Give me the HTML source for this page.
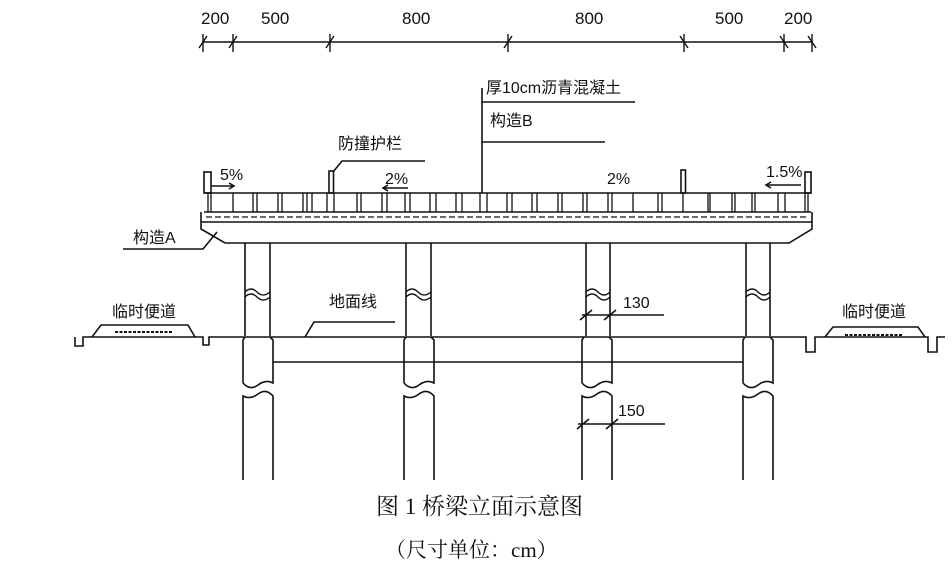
<!DOCTYPE html>
<html><head><meta charset="utf-8"><style>
html,body{margin:0;padding:0;background:#fff;}
svg{display:block;}
text{font-family:"Liberation Sans","Noto Sans CJK SC",sans-serif;fill:#111;}
.s{font-family:"Liberation Serif","Noto Serif CJK SC",serif;}
</style></head><body>
<svg width="952" height="565" viewBox="0 0 952 565" xmlns="http://www.w3.org/2000/svg">
<g stroke="#111" stroke-width="1.6" fill="none">
<!-- dimension line -->
<line x1="203" y1="42" x2="812" y2="42"/>
<g stroke-width="1.4">
<line x1="203" y1="34" x2="203" y2="52"/><line x1="199" y1="48" x2="207" y2="36"/>
<line x1="233" y1="34" x2="233" y2="52"/><line x1="229" y1="48" x2="237" y2="36"/>
<line x1="330" y1="34" x2="330" y2="52"/><line x1="326" y1="48" x2="334" y2="36"/>
<line x1="508" y1="34" x2="508" y2="52"/><line x1="504" y1="48" x2="512" y2="36"/>
<line x1="684" y1="34" x2="684" y2="52"/><line x1="680" y1="36" x2="688" y2="48"/>
<line x1="784" y1="34" x2="784" y2="52"/><line x1="780" y1="36" x2="788" y2="48"/>
<line x1="812" y1="34" x2="812" y2="52"/><line x1="808" y1="36" x2="816" y2="48"/>
</g>
<!-- leaders top -->
<line x1="482" y1="88" x2="482" y2="193"/>
<line x1="482" y1="102" x2="635" y2="102"/>
<line x1="482" y1="142" x2="605" y2="142"/>
<polyline points="333,172 342,161 425,161"/>
<!-- deck -->
<line x1="204" y1="193" x2="811" y2="193"/>
<line x1="204" y1="212" x2="811" y2="212"/>
<path d="M201,212 L201,229 L225,243 L789,243 L812,229 L812,212"/>
<line x1="201" y1="222" x2="812" y2="222"/>
<line x1="206" y1="217" x2="808" y2="217" stroke-dasharray="6,3" stroke-width="1.3"/>
<!-- railing posts -->
<rect x="204" y="172" width="7" height="21"/>
<rect x="329" y="171" width="4.5" height="22"/>
<rect x="681" y="170" width="4.5" height="23"/>
<rect x="805" y="172" width="6" height="21"/>
<g stroke-width="1.3">
<line x1="208" y1="193" x2="208" y2="212"/><line x1="211" y1="193" x2="211" y2="212"/>
<line x1="233" y1="193" x2="233" y2="212"/>
<line x1="805" y1="193" x2="805" y2="212"/><line x1="808" y1="193" x2="808" y2="212"/>
<line x1="785" y1="193" x2="785" y2="212"/>
<line x1="253" y1="193" x2="253" y2="212"/><line x1="257" y1="193" x2="257" y2="212"/>
<line x1="278" y1="193" x2="278" y2="212"/><line x1="282" y1="193" x2="282" y2="212"/>
<line x1="303" y1="193" x2="303" y2="212"/><line x1="307" y1="193" x2="307" y2="212"/><line x1="312" y1="193" x2="312" y2="212"/>
<line x1="327" y1="193" x2="327" y2="212"/><line x1="334" y1="193" x2="334" y2="212"/>
<line x1="357" y1="193" x2="357" y2="212"/><line x1="361" y1="193" x2="361" y2="212"/>
<line x1="382" y1="193" x2="382" y2="212"/><line x1="387" y1="193" x2="387" y2="212"/>
<line x1="405" y1="193" x2="405" y2="212"/><line x1="410" y1="193" x2="410" y2="212"/>
<line x1="430" y1="193" x2="430" y2="212"/><line x1="436" y1="193" x2="436" y2="212"/>
<line x1="456" y1="193" x2="456" y2="212"/><line x1="462" y1="193" x2="462" y2="212"/>
<line x1="480" y1="193" x2="480" y2="212"/><line x1="487" y1="193" x2="487" y2="212"/>
<line x1="507" y1="193" x2="507" y2="212"/><line x1="512" y1="193" x2="512" y2="212"/>
<line x1="532" y1="193" x2="532" y2="212"/><line x1="537" y1="193" x2="537" y2="212"/>
<line x1="558" y1="193" x2="558" y2="212"/><line x1="562" y1="193" x2="562" y2="212"/>
<line x1="583" y1="193" x2="583" y2="212"/><line x1="587" y1="193" x2="587" y2="212"/>
<line x1="608" y1="193" x2="608" y2="212"/><line x1="612" y1="193" x2="612" y2="212"/>
<line x1="633" y1="193" x2="633" y2="212"/>
<line x1="658" y1="193" x2="658" y2="212"/><line x1="662" y1="193" x2="662" y2="212"/>
<line x1="683" y1="193" x2="683" y2="212"/>
<line x1="708" y1="193" x2="708" y2="212"/><line x1="710" y1="193" x2="710" y2="212"/>
<line x1="732" y1="193" x2="732" y2="212"/><line x1="735" y1="193" x2="735" y2="212"/>
<line x1="752" y1="193" x2="752" y2="212"/><line x1="755" y1="193" x2="755" y2="212"/>
<line x1="778" y1="193" x2="778" y2="212"/>
</g>
<!-- slope arrows -->
<line x1="211" y1="186" x2="234" y2="186"/><polyline points="229,183 234,186 229,189"/>
<line x1="383" y1="188" x2="408" y2="188"/><polyline points="388,185 383,188 388,191"/>
<line x1="766" y1="185" x2="801" y2="185"/><polyline points="771,182 766,185 771,188"/>
<!-- 构造A leader -->
<polyline points="123,249 203,249 217,232"/>
<!-- piers upper -->
<line x1="245" y1="243" x2="245" y2="336"/><line x1="270" y1="243" x2="270" y2="336"/>
<line x1="406" y1="243" x2="406" y2="336"/><line x1="431" y1="243" x2="431" y2="336"/>
<line x1="586" y1="243" x2="586" y2="336"/><line x1="610" y1="243" x2="610" y2="336"/>
<line x1="746" y1="243" x2="746" y2="336"/><line x1="770" y1="243" x2="770" y2="336"/>
<g stroke-width="1.3">
<path d="M245,292 q6,-6 12,0 t13,0 M245,297 q6,-6 12,0 t13,0"/>
<path d="M406,292 q6,-6 12,0 t13,0 M406,297 q6,-6 12,0 t13,0"/>
<path d="M586,292 q6,-6 12,0 t12,0 M586,297 q6,-6 12,0 t12,0"/>
<path d="M746,292 q6,-6 12,0 t12,0 M746,297 q6,-6 12,0 t12,0"/>
</g>
<!-- ground line -->
<path d="M75,337 L75,346 L83,346 L83,337 L203,337 L203,345 L209,345 L209,337 L806,337 L806,352 L815,352 L815,337 L928,337 L928,352 L937,352 L937,337 L945,337"/>
<path d="M92,337 L101,325 L188,325 L195,337"/>
<path d="M825,337 L833,327 L918,327 L925,337"/>
<line x1="115" y1="332" x2="172" y2="332" stroke-dasharray="3,1.5" stroke-width="2"/>
<line x1="845" y1="335" x2="902" y2="335" stroke-dasharray="3,1.5" stroke-width="2"/>
<!-- tie beam -->
<line x1="273" y1="362" x2="743" y2="362"/>
<!-- piles -->
<g id="pile">
<path d="M243,480 L243,396 q7,4 15,-2 t15,2 L273,480"/>
<path d="M243,383 L243,340 l2,-3 M270,337 l3,3 L273,383 q-7,-4 -15,2 t-15,-2"/>
</g>
<use href="#pile" x="161"/>
<use href="#pile" x="339"/>
<use href="#pile" x="500"/>
<!-- 地面线 leader -->
<polyline points="305,337 314,322 395,322"/>
<!-- 130/150 -->
<line x1="582" y1="315" x2="664" y2="315"/>
<line x1="580" y1="320" x2="592" y2="310"/><line x1="604" y1="320" x2="616" y2="310"/>
<line x1="578" y1="424" x2="665" y2="424"/>
<line x1="577" y1="429" x2="589" y2="419"/><line x1="606" y1="429" x2="618" y2="419"/>
</g>
<g font-size="17">
<text x="201" y="24">200</text><text x="261" y="24">500</text>
<text x="402" y="24">800</text><text x="575" y="24">800</text>
<text x="715" y="24">500</text><text x="784" y="24">200</text>
<text x="486" y="93" font-size="16">厚10cm沥青混凝土</text>
<text x="490" y="126" font-size="16">构造B</text>
<text x="338" y="149" font-size="16">防撞护栏</text>
<text x="220" y="180" font-size="16">5%</text>
<text x="385" y="184" font-size="16">2%</text>
<text x="607" y="184" font-size="16">2%</text>
<text x="766" y="177" font-size="16">1.5%</text>
<text x="133" y="243" font-size="16">构造A</text>
<text x="112" y="317" font-size="16">临时便道</text>
<text x="842" y="317" font-size="16">临时便道</text>
<text x="329" y="307" font-size="16">地面线</text>
<text x="623" y="308" font-size="16">130</text>
<text x="618" y="416" font-size="16">150</text>
</g>
<text class="s" x="376" y="514" font-size="23">图 1 桥梁立面示意图</text>
<text class="s" x="385" y="557" font-size="21">（尺寸单位：cm）</text>
</svg>
</body></html>
